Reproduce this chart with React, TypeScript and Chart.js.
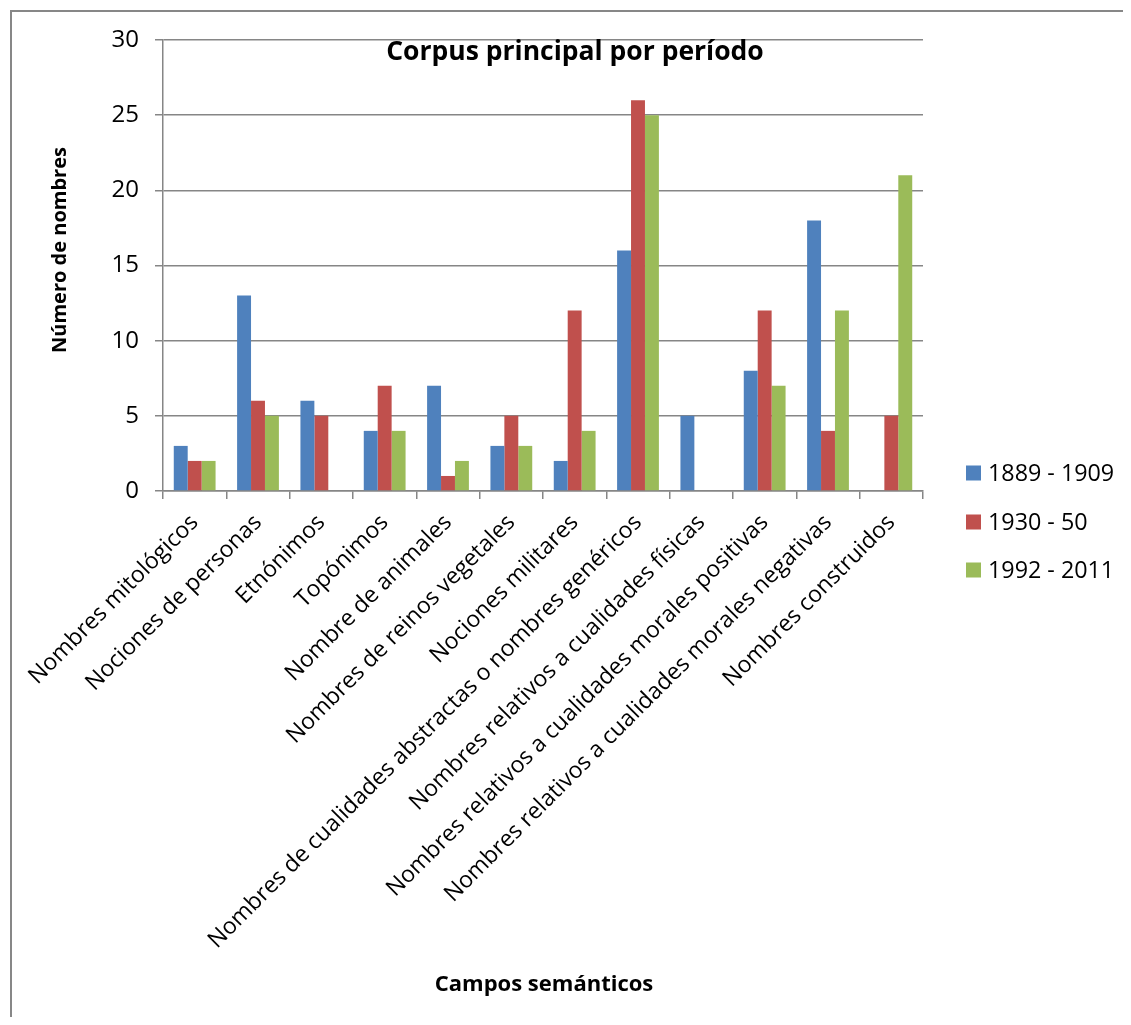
import React, { useEffect, useRef } from "react";
import { Chart, registerables } from "chart.js";

Chart.register(...registerables);

const categories = [
  "Nombres mitológicos",
  "Nociones de personas",
  "Etnónimos",
  "Topónimos",
  "Nombre de animales",
  "Nombres de reinos vegetales",
  "Nociones militares",
  "Nombres de cualidades abstractas o nombres genéricos",
  "Nombres relativos a cualidades físicas",
  "Nombres relativos a cualidades morales positivas",
  "Nombres relativos a cualidades morales negativas",
  "Nombres construidos",
];
const series1889 = [3, 13, 6, 4, 7, 3, 2, 16, 5, 8, 18, 0];
const series1930 = [2, 6, 5, 7, 1, 5, 12, 26, 0, 12, 4, 5];
const series1992 = [2, 5, 0, 4, 2, 3, 4, 25, 0, 7, 12, 21];
const seriesLabels = ["1889 - 1909", "1930 - 50", "1992 - 2011"];
const seriesColors = ["#4F81BD", "#C0504D", "#9BBB59"];
const yMin = 0;
const yMax = 30;
const yStep = 5;
const chartTitle = "Corpus principal por período";
const yTitle = "Número de nombres";
const xTitle = "Campos semánticos";

const FONT = "'Open Sans', 'Noto Sans', sans-serif";
const GRID = "#868686";

const W = 1115;
const H = 1009;
const AREA = { left: 155, right: 915, top: 32, bottom: 483 };

const overlayPlugin = {
  id: "overlay",
  afterDraw(chart: any) {
    const ctx = chart.ctx as CanvasRenderingContext2D;
    ctx.save();
    ctx.fillStyle = "#000";
    // chart title
    ctx.font = `bold 26.5px ${FONT}`;
    ctx.textAlign = "center";
    ctx.textBaseline = "middle";
    ctx.fillText(chartTitle, 567, 44);
    // x title
    ctx.font = `bold 22px ${FONT}`;
    ctx.fillText(xTitle, 536, 977);
    // y title
    ctx.save();
    ctx.font = `bold 20px ${FONT}`;
    ctx.translate(52, 242);
    ctx.rotate(-Math.PI / 2);
    ctx.fillText(yTitle, 0, 0);
    ctx.restore();
    // legend
    const ys = [465, 514, 562];
    chart.data.datasets.forEach((ds: any, i: number) => {
      ctx.fillStyle = ds.backgroundColor;
      ctx.fillRect(958, ys[i] - 7.5, 15, 15);
      ctx.fillStyle = "#000";
      ctx.font = `23.3px ${FONT}`;
      ctx.textAlign = "left";
      ctx.textBaseline = "middle";
      ctx.fillText(ds.label, 980, ys[i] + 1);
    });
    ctx.restore();
  },
};

export default function App() {
  const ref = useRef<HTMLCanvasElement | null>(null);
  useEffect(() => {
    if (!ref.current) return;
    const seriesData = [series1889, series1930, series1992];
    const chart = new Chart(ref.current, {
      type: "bar",
      data: {
        labels: categories,
        datasets: seriesData.map((d, i) => ({
          label: seriesLabels[i],
          data: d,
          backgroundColor: seriesColors[i],
          borderWidth: 0,
          barPercentage: 1,
          categoryPercentage: 0.66,
        })),
      },
      options: {
        animation: false,
        responsive: false,
        maintainAspectRatio: false,
        devicePixelRatio: 1,
        layout: {
          padding: { left: 0, top: AREA.top, right: W - AREA.right, bottom: 0 },
        },
        plugins: {
          legend: { display: false },
          title: { display: false },
          tooltip: { enabled: false },
        },
        scales: {
          x: {
            grid: {
              display: true,
              drawOnChartArea: false,
              drawTicks: true,
              tickLength: 8,
              color: GRID,
              lineWidth: 1.5,
              offset: true,
            },
            border: { display: true, color: GRID, width: 1.5 },
            ticks: {
              minRotation: 45,
              maxRotation: 45,
              autoSkip: false,
              color: "#000",
              padding: 10,
              font: { family: FONT, size: 23 },
            },
            afterFit: (scale: any) => {
              scale.height = H - AREA.bottom;
            },
          },
          y: {
            min: yMin,
            max: yMax,
            ticks: {
              stepSize: yStep,
              color: "#000",
              padding: 16,
              font: { family: FONT, size: 24 },
            },
            grid: {
              color: GRID,
              lineWidth: 1.5,
              drawTicks: true,
              tickLength: 8,
            },
            border: { display: true, color: GRID, width: 1.5 },
            afterFit: (scale: any) => {
              scale.width = AREA.left;
            },
          },
        },
      },
      plugins: [overlayPlugin],
    });
    return () => chart.destroy();
  }, []);

  return (
    <div style={{ position: "relative", width: W, height: H, overflow: "hidden", background: "#fff" }}>
      <canvas ref={ref} width={W} height={H} style={{ display: "block", width: W, height: H }} />
      <div
        style={{
          position: "absolute",
          left: 2,
          top: 2,
          width: 3000,
          height: 3000,
          borderLeft: "2px solid #878787",
          borderTop: "2px solid #878787",
          pointerEvents: "none",
        }}
      />
    </div>
  );
}
